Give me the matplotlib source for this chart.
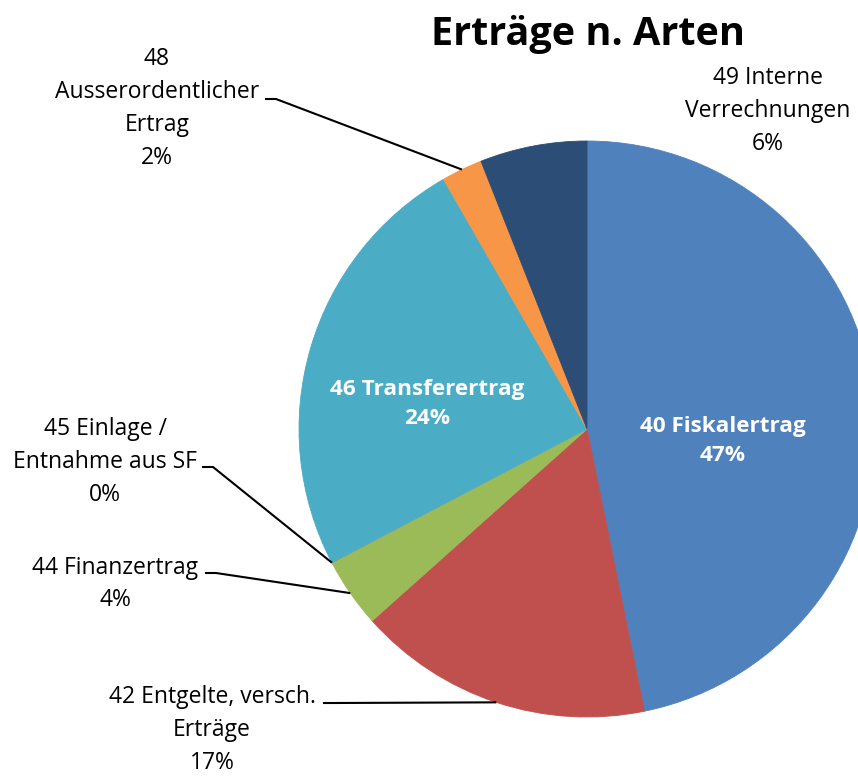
import numpy as np
import matplotlib
matplotlib.use("Agg")
import matplotlib.pyplot as plt

plt.rcParams['font.family'] = ['Open Sans', 'DejaVu Sans']

# data (share of total, %)
categories = ["40 Fiskalertrag", "42 Entgelte, versch.\nErträge", "44 Finanzertrag",
              "45 Einlage /\nEntnahme aus SF", "46 Transferertrag",
              "48\nAusserordentlicher\nErtrag", "49 Interne\nVerrechnungen"]
values = [46.8, 16.6, 3.9, 0.03, 24.37, 2.3, 6.0]
colors = ["#4F81BD", "#C0504D", "#9BBB59", "#8064A2", "#4BACC6", "#F79646", "#2C4D75"]

W, H = 858, 779
fig = plt.figure(figsize=(W / 100, H / 100), dpi=100)
ax = fig.add_axes([0, 0, 1, 1])

cx, cy, R = 587, H - 429, 288
wedges, _ = ax.pie(values, colors=colors, startangle=90, counterclock=False,
                   center=(cx, cy), radius=R, frame=True,
                   wedgeprops=dict(linewidth=0.6))
for w in wedges:
    w.set_edgecolor(w.get_facecolor())
wedges[3].set_linewidth(0)
ax.set_xlim(0, W)
ax.set_ylim(0, H)
ax.set_aspect('equal')
ax.axis('off')

total = sum(values)
pct = [f"{round(v / total * 100):d}%" for v in values]

def arc_mid(w):
    a = np.deg2rad((w.theta1 + w.theta2) / 2)
    return cx + R * np.cos(a), cy + R * np.sin(a)

fs = 16.5
ls = 1.5
# inside labels (white bold)
inside = {0: (723, 441), 4: (427, 404)}
for i, (x, y) in inside.items():
    ax.text(x, H - y, f"{categories[i]}\n{pct[i]}", ha='center', va='center',
            color='white', fontsize=16.2, fontweight='bold', linespacing=ls)

# outside labels: text centre, leader start (None = no leader)
outside = {
    6: ((768, 111), None),
    5: ((157, 108), (265, 99)),
    3: ((105, 462), (202, 467)),
    2: ((115, 584), (205, 573)),
    1: ((212, 730), (323, 703)),
}
for i, ((x, y), lead) in outside.items():
    ax.text(x, H - y, f"{categories[i]}\n{pct[i]}", ha='center', va='center',
            color='black', fontsize=fs, linespacing=ls)
    if lead is not None:
        ex, ey = arc_mid(wedges[i])
        lx, ly = lead
        ax.plot([lx, lx + 11, ex], [H - ly, H - ly, ey], color='black', lw=1.5,
                solid_capstyle='butt')

ax.text(588, H - 34, "Erträge n. Arten", ha='center', va='center',
        fontsize=28.5, fontweight='bold', color='black')

fig.savefig("out.png", dpi=100)
